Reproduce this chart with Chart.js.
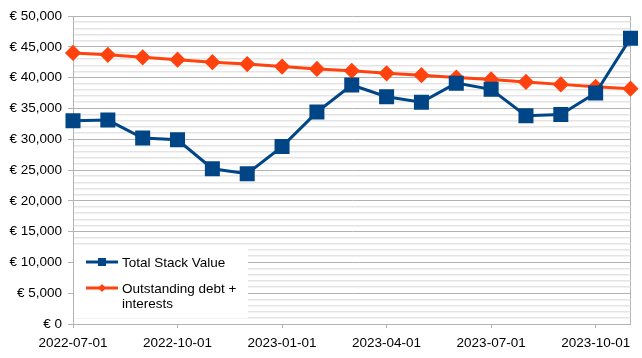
<!DOCTYPE html>
<html>
<head>
<meta charset="utf-8">
<script src="https://cdn.jsdelivr.net/npm/chart.js@4.4.0/dist/chart.umd.min.js"></script>
<style>
  html, body { margin: 0; padding: 0; background: #fff; }
  #contenedor { width: 642px; height: 358px; }
</style>
</head>
<body>
<div id="contenedor"><canvas id="grafico"></canvas></div>
<script>
// Datos (mensuales)
const fechas = [
  "2022-07-01", "2022-08-01", "2022-09-01", "2022-10-01", "2022-11-01", "2022-12-01",
  "2023-01-01", "2023-02-01", "2023-03-01", "2023-04-01", "2023-05-01", "2023-06-01",
  "2023-07-01", "2023-08-01", "2023-09-01", "2023-10-01", "2023-11-01",
];
const valorStack = [33000, 33100, 30200, 29900, 25200, 24400, 28800, 34400, 38800,
  36900, 36000, 39100, 38100, 33800, 34000, 37500, 46400];
const deudaIntereses = [44000, 43700, 43300, 42900, 42500, 42200, 41800, 41400, 41100,
  40700, 40400, 40000, 39700, 39300, 38900, 38500, 38200];
const nombresSeries = ["Total Stack Value", ["Outstanding debt +", "interests"]];

const AZUL = "#004586";
const NARANJA = "#ff420e";
const FUENTE = "'Liberation Sans', Arial, sans-serif";
const TAM = 13.5;

// Leyenda dibujada dentro del area del grafico (abajo a la izquierda)
const leyendaInterna = {
  id: "leyendaInterna",
  beforeDatasetsDraw(chart) {
    const { ctx, chartArea } = chart;
    const x0 = chartArea.left + 1;
    const y0 = chartArea.bottom - 76;
    ctx.save();
    ctx.fillStyle = "#fff";
    ctx.fillRect(x0, y0, 174, 70);

    const items = [
      { texto: nombresSeries[0], color: AZUL, forma: "rect", y: y0 + 14 },
      { texto: nombresSeries[1], color: NARANJA, forma: "rectRot", y: y0 + 40 },
    ];
    items.forEach((it) => {
      ctx.strokeStyle = it.color;
      ctx.lineWidth = 3;
      ctx.beginPath();
      ctx.moveTo(x0 + 12, it.y);
      ctx.lineTo(x0 + 44, it.y);
      ctx.stroke();
      ctx.fillStyle = it.color;
      if (it.forma === "rect") {
        ctx.fillRect(x0 + 24, it.y - 4, 8, 8);
      } else {
        ctx.beginPath();
        ctx.moveTo(x0 + 28, it.y - 4);
        ctx.lineTo(x0 + 32, it.y);
        ctx.lineTo(x0 + 28, it.y + 4);
        ctx.lineTo(x0 + 24, it.y);
        ctx.closePath();
        ctx.fill();
      }
      ctx.fillStyle = "#000";
      ctx.font = TAM + "px " + FUENTE;
      ctx.textBaseline = "middle";
      const lineas = Array.isArray(it.texto) ? it.texto : [it.texto];
      lineas.forEach((l, i) => ctx.fillText(l, x0 + 48, it.y + 1 + i * 15));
    });
    ctx.restore();
  },
};

new Chart(document.getElementById("grafico"), {
  type: "line",
  data: {
    labels: fechas,
    datasets: [
      {
        label: "Total Stack Value",
        data: valorStack,
        borderColor: AZUL,
        backgroundColor: AZUL,
        borderWidth: 3,
        pointStyle: "rect",
        pointRadius: 8.5,
        pointHoverRadius: 8.5,
        tension: 0,
      },
      {
        label: "Outstanding debt + interests",
        data: deudaIntereses,
        borderColor: NARANJA,
        backgroundColor: NARANJA,
        borderWidth: 3,
        pointStyle: "rectRot",
        pointRadius: 6,
        pointHoverRadius: 6,
        tension: 0,
      },
    ],
  },
  options: {
    responsive: true,
    maintainAspectRatio: false,
    animation: false,
    layout: { padding: { top: 16, right: 10, left: 0, bottom: 0 } },
    plugins: {
      legend: { display: false },
      tooltip: { enabled: false },
    },
    scales: {
      x: {
        offset: false,
        afterFit: (s) => { s.height = 34; },
        border: { color: "#b3b3b3", width: 1 },
        grid: {
          drawOnChartArea: true,
          color: (c) => (c.index === fechas.length - 1 ? "#b3b3b3" : "transparent"),
          tickColor: (c) => (c.index % 3 === 0 ? "#b3b3b3" : "transparent"),
          tickLength: 4,
        },
        ticks: {
          autoSkip: false,
          maxRotation: 0,
          padding: 7,
          color: "#000",
          font: { family: FUENTE, size: TAM },
          callback: (v, i) => (i % 3 === 0 && i < fechas.length - 1 ? fechas[i] : ""),
        },
      },
      y: {
        min: 0,
        max: 50000,
        afterFit: (s) => { s.width = 73; },
        border: { color: "#b3b3b3", width: 1 },
        grid: {
          color: (c) => (c.tick && c.tick.value % 5000 === 0 ? "#b3b3b3" : "#e4e4e4"),
          lineWidth: (c) => (c.tick && c.tick.value % 5000 === 0 ? 1 : 1.5),
          tickColor: (c) => (c.tick && c.tick.value % 5000 === 0 ? "#b3b3b3" : "transparent"),
          tickLength: 5,
        },
        ticks: {
          stepSize: 1000,
          maxTicksLimit: 100,
          autoSkip: false,
          padding: 6,
          color: "#000",
          font: { family: FUENTE, size: TAM },
          callback: (v) => (v % 5000 === 0 ? "€ " + v.toLocaleString("en-US") : ""),
        },
      },
    },
  },
  plugins: [leyendaInterna],
});
</script>
</body>
</html>
